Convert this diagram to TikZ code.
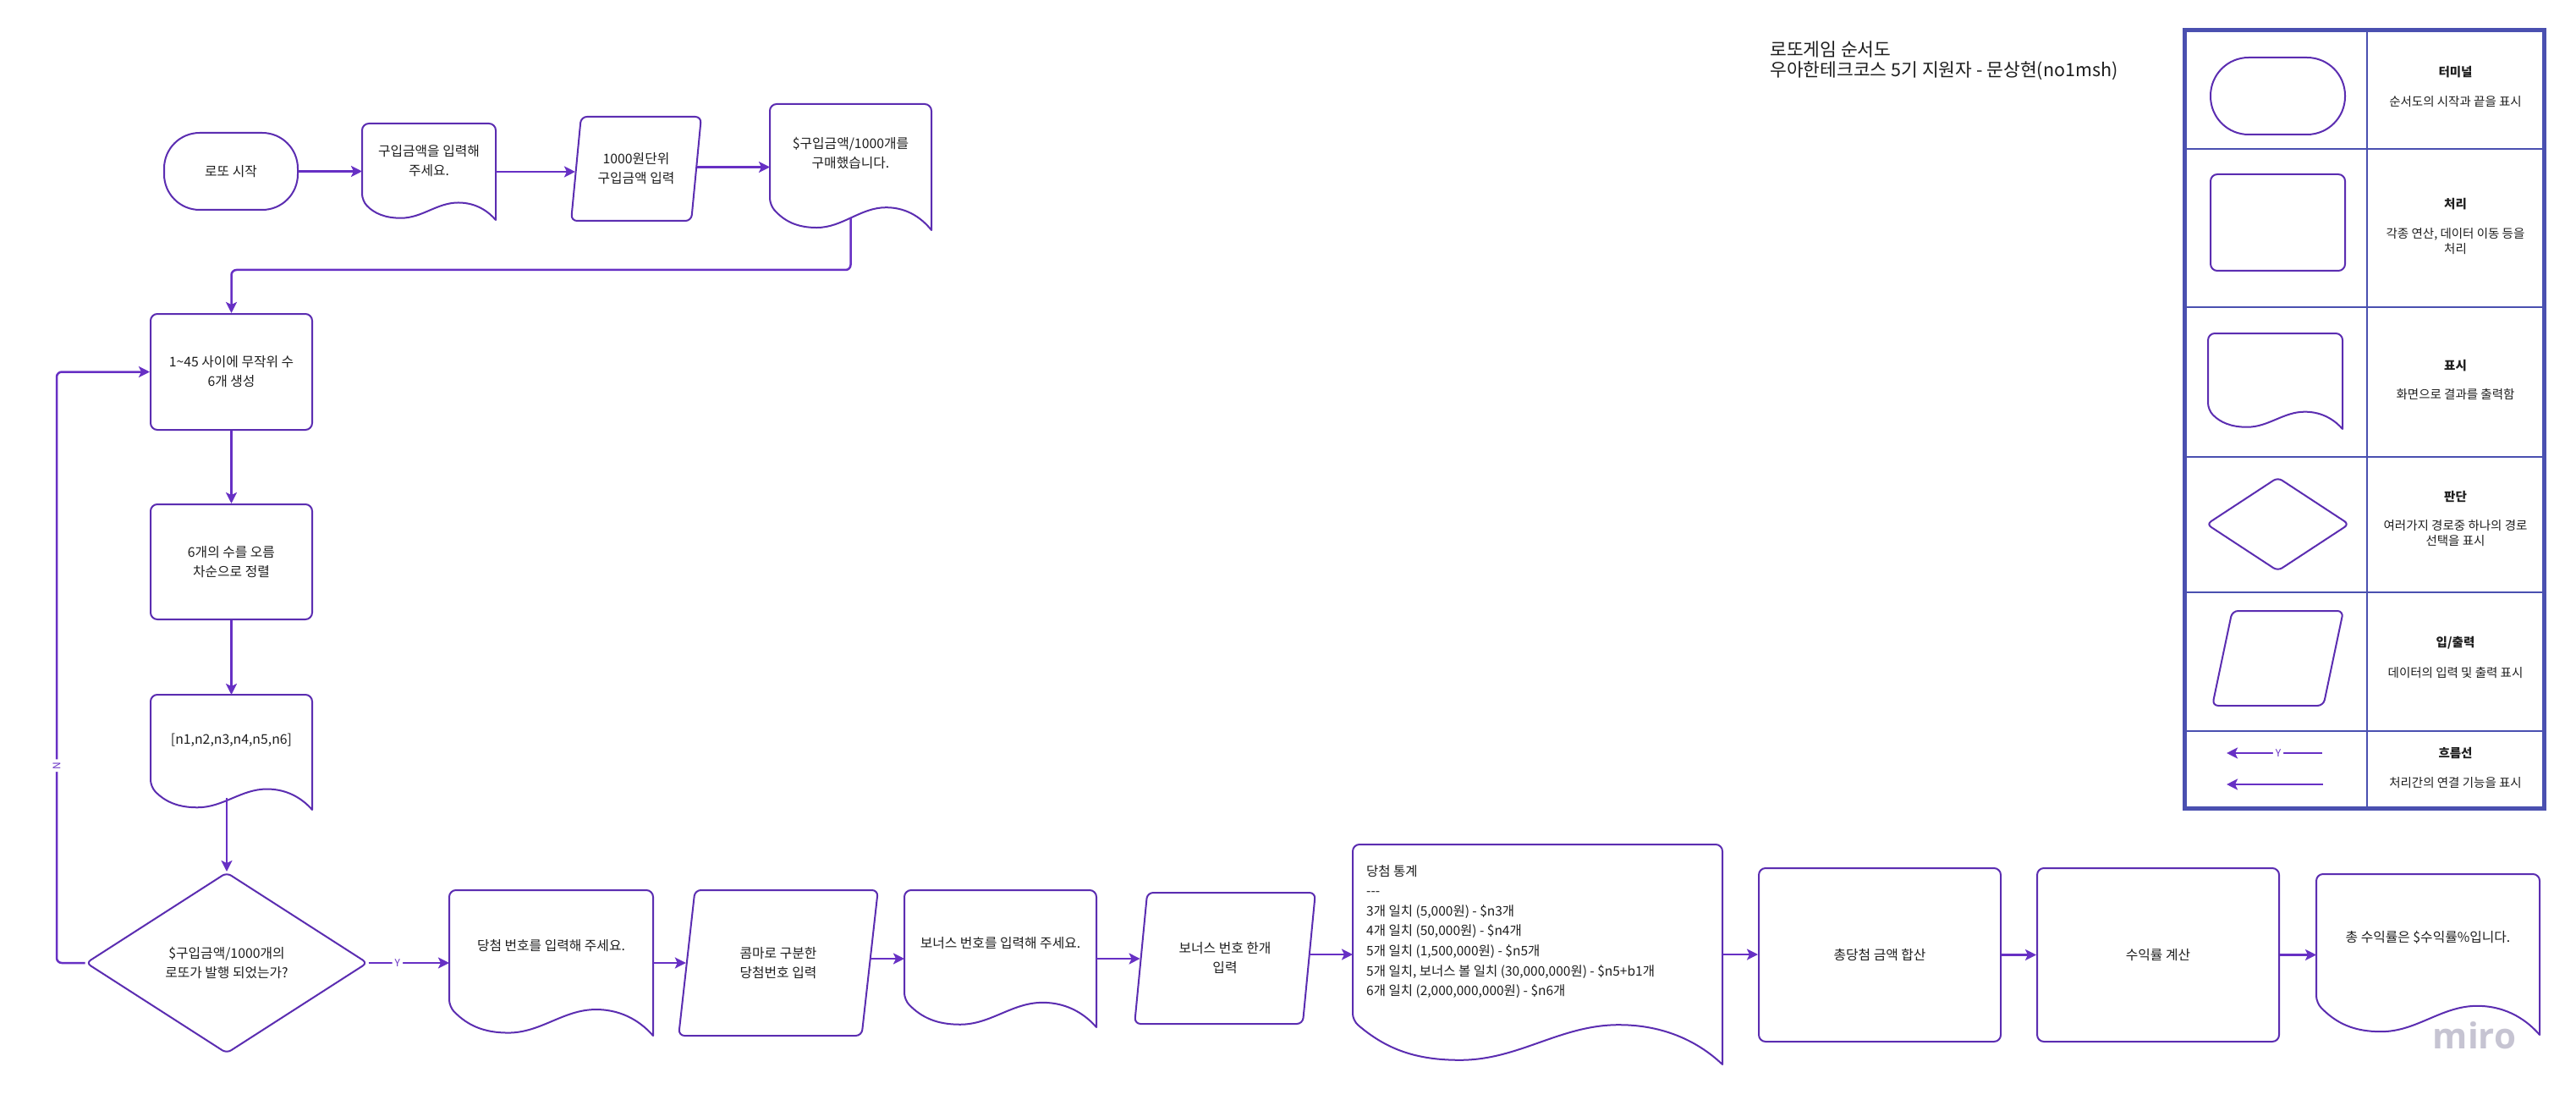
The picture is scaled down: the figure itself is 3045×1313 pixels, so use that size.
\documentclass[tikz,border=0pt]{standalone}
\usepackage{fontspec}
\setmainfont{Noto Sans CJK KR}
\newfontfamily\mirofont{Open Sans}
\usetikzlibrary{shapes.geometric,arrows.meta,calc}
\definecolor{lp}{HTML}{5B2DB1}
\definecolor{la}{HTML}{6730C4}
\definecolor{lb}{HTML}{4A50B0}
\definecolor{tx}{HTML}{1E1E1E}
\definecolor{mg}{HTML}{C6C4D2}

\newcommand\mkdoc[5]{%
  \pgfmathsetmacro\dw{#4-#2}%
  \pgfmathsetmacro\dh{#5-#3}%
  \node[box0, minimum width=\dw pt, minimum height=\dh pt] (#1) at ({(#2+#4)/2},{(#3+#5)/2}) {};%
  \coordinate (#1-mid) at ({(#2+#4)/2},{#3+0.9*\dh});%
  \draw[shp] (#4,#5) [rounded corners=8pt] -- (#4,#3) -- (#2,#3) -- (#2,{#3+0.8*\dh}) [sharp corners]
    .. controls ({#2+0.09*\dw},{#3+0.93*\dh}) and ({#2+0.17*\dw},{#3+0.98*\dh}) .. ({#2+0.29*\dw},{#3+0.98*\dh})
    .. controls ({#2+0.45*\dw},{#3+0.98*\dh}) and ({#2+0.56*\dw},{#3+0.82*\dh}) .. ({#2+0.72*\dw},{#3+0.82*\dh})
    .. controls ({#2+0.86*\dw},{#3+0.82*\dh}) and ({#2+0.95*\dw},{#3+0.92*\dh}) .. (#4,#5);%
}

\begin{document}
\begin{tikzpicture}[x=1pt,y=-1pt,
  shp/.style={draw=lp, line width=2pt, line join=round, line cap=round},
  box0/.style={draw=none, inner sep=0pt, outer sep=0pt},
  txt/.style={text=tx, font=\fontsize{15.8pt}{23pt}\selectfont, align=center, inner sep=0pt},
  term/.style={shp, rectangle, rounded corners=42pt, txt},
  proc/.style={shp, rectangle, rounded corners=8pt, txt},
  io/.style={shp, trapezium, trapezium stretches=true, rounded corners=7pt, txt},
  dec/.style={shp, diamond, rounded corners=6pt, txt},
  arr/.style={draw=la, line width=2.5pt, rounded corners=6pt, -{Stealth[length=13pt,width=13pt,inset=3pt]}},
  lab/.style={text=la, font=\fontsize{12pt}{14pt}\selectfont, fill=white, inner sep=3pt},
  lgt/.style={text=tx, font=\fontsize{14.5pt}{18pt}\selectfont, align=center, inner sep=0pt},
]
\fill[white] (0,0) rectangle (3045,1313);
\useasboundingbox (0,0) rectangle (3045,1313);

% ---------- top row ----------
\node[term, minimum width=158pt, minimum height=91pt] (t0) at (273,202.5) {로또 시작};
\mkdoc{d1}{428}{146}{586}{260}
\node[txt] (d1t) at (507,190.5) {구입금액을 입력해\\주세요.};
\node[io, trapezium left angle=77.6, trapezium right angle=102.4, minimum width=154pt, minimum height=123pt] (p0) at (752,199.5) {1000원단위\\구입금액 입력};
\mkdoc{d2}{910}{123}{1101}{272}
\node[txt] (d2t) at (1005.5,181) {\$구입금액/1000개를\\구매했습니다.};

% ---------- left column ----------
\node[proc, minimum width=191pt, minimum height=137pt] (b1) at (273.5,439.5) {1\textasciitilde45 사이에 무작위 수\\6개 생성};
\node[proc, minimum width=191pt, minimum height=136pt] (b2) at (273.5,664) {6개의 수를 오름\\차순으로 정렬};
\mkdoc{dn}{178}{821}{369}{957}
\node[txt] (dnt) at (273.5,875) {[n1,n2,n3,n4,n5,n6]};
\node[dec, minimum width=333pt, minimum height=214pt] (dc) at (268,1138) {\$구입금액/1000개의\\로또가 발행 되었는가?};

% ---------- bottom row ----------
\mkdoc{dA}{531}{1052}{772}{1224}
\node[txt] (dAt) at (651.5,1118) {당첨 번호를 입력해 주세요.};
\node[io, trapezium left angle=76.6, trapezium right angle=103.4, minimum width=236pt, minimum height=172pt] (p1) at (920,1138) {콤마로 구분한\\당첨번호 입력};
\mkdoc{dB}{1069}{1052}{1296}{1214}
\node[txt] (dBt) at (1182.5,1115) {보너스 번호를 입력해 주세요.};
\node[io, trapezium left angle=76.6, trapezium right angle=103.4, minimum width=214pt, minimum height=155pt] (p2) at (1448,1132.5) {보너스 번호 한개\\입력};
\mkdoc{dC}{1599}{998}{2036}{1258}
\node[txt, align=left, anchor=west, font=\fontsize{15.5pt}{23.6pt}\selectfont] (dCt) at (1615,1101) {당첨 통계\\\mbox{-}\mbox{-}\mbox{-}\\3개 일치 (5,000원) - \$n3개\\4개 일치 (50,000원) - \$n4개\\5개 일치 (1,500,000원) - \$n5개\\5개 일치, 보너스 볼 일치 (30,000,000원) - \$n5+b1개\\6개 일치 (2,000,000,000원) - \$n6개};
\node[proc, minimum width=286pt, minimum height=205pt] (b3) at (2222,1128.5) {총당첨 금액 합산};
\node[proc, minimum width=286pt, minimum height=205pt] (b4) at (2551,1128.5) {수익률 계산};
\mkdoc{dD}{2738}{1033}{3002}{1223}
\node[txt] (dDt) at (2870,1108) {총 수익률은 \$수익률\%입니다.};

% ---------- connectors ----------
\coordinate (c1) at (0,319);
\coordinate (nx) at (67,700);
\draw[arr] (t0.east) -- (t0.east -| d1.west);
\draw[arr] (d1.east) -- (d1.east -| p0.west);
\draw[arr] (p0.east |- d2.west) -- (d2.west);
\draw[arr] (d2-mid) -- (d2-mid |- c1) -| (b1.north);
\draw[arr] (b1.south) -- (b2.north);
\draw[arr] (b2.south) -- (dn.north);
\draw[arr] (dc.north |- dn-mid) -- (dc.north);
\draw[arr] (dc.west) -- (dc.west -| nx) -- node[lab, pos=0.334, rotate=90] (nl) {N} (nx |- b1.west) -- (b1.west);
\draw[arr] (dc.east) -- node[lab, pos=0.36] (yl) {Y} (dA.west);
\draw[arr] (dA.east) -- (dA.east -| p1.west);
\draw[arr] (p1.east |- dB.west) -- (dB.west);
\draw[arr] (dB.east) -- (dB.east -| p2.west);
\draw[arr] (p2.east |- dC.west) -- (dC.west);
\draw[arr] (dC.east) -- (dC.east -| b3.west);
\draw[arr] (b3.east) -- (b3.east -| b4.west);
\draw[arr] (b4.east) -- (b4.east -| dD.west);

% ---------- title ----------
\node[text=tx, font=\fontsize{21.5pt}{23.5pt}\selectfont, align=left, anchor=west, inner sep=0pt] (title) at (2092,71.5) {로또게임 순서도\\우아한테크코스 5기 지원자 - 문상현(no1msh)};

% ---------- legend ----------
\draw[lb, line width=2.5pt] (2798,36) -- (2798,955);
\foreach \yy in {176,363,540,700,864} \draw[lb, line width=2.5pt] (2582,\yy) -- (3007,\yy);
\draw[lb, line width=5pt] (2582,36) rectangle (3007,955);

\node[term, rounded corners=45pt, minimum width=159pt, minimum height=91pt] (lgT) at (2692.5,113.5) {};
\node[proc, minimum width=159pt, minimum height=114pt] (lgP) at (2692.5,263) {};
\mkdoc{lgD}{2610}{394}{2769}{507}
\node[dec, minimum width=169pt, minimum height=111pt] (lgJ) at (2692.5,619.5) {};
\node[io, trapezium left angle=76.4, trapezium right angle=103.6, minimum width=155pt, minimum height=112pt] (lgIO) at (2692.5,778) {\phantom{M}};
\coordinate (lgA1s) at (2745,890);
\coordinate (lgA1e) at (2632,890);
\coordinate (lgA2s) at (2746,927);
\coordinate (lgA2e) at (2632,927);
\draw[arr] (lgA1s) -- node[lab, pos=0.46] (lgY) {Y} (lgA1e);
\draw[arr] (lgA2s) -- (lgA2e);

\node[lgt] (lh1) at (2902.5,85) {\textbf{터미널}};
\node[lgt] (ld1) at (2902.5,120) {순서도의 시작과 끝을 표시};
\node[lgt] (lh2) at (2902.5,241) {\textbf{처리}};
\node[lgt] (ld2) at (2902.5,285) {각종 연산, 데이터 이동 등을\\처리};
\node[lgt] (lh3) at (2902.5,432) {\textbf{표시}};
\node[lgt] (ld3) at (2902.5,466) {화면으로 결과를 출력함};
\node[lgt] (lh4) at (2902.5,587) {\textbf{판단}};
\node[lgt] (ld4) at (2902.5,630.5) {여러가지 경로중 하나의 경로\\선택을 표시};
\node[lgt] (lh5) at (2902.5,760) {\textbf{입/출력}};
\node[lgt] (ld5) at (2902.5,795) {데이터의 입력 및 출력 표시};
\node[lgt] (lh6) at (2902.5,890) {\textbf{흐름선}};
\node[lgt] (ld6) at (2902.5,925) {처리간의 연결 기능을 표시};

% ---------- watermark ----------
\node[text=mg, font=\mirofont\bfseries\fontsize{42pt}{42pt}\selectfont, inner sep=0pt] (miro) at (2925,1224) {miro};
\end{tikzpicture}
\end{document}
